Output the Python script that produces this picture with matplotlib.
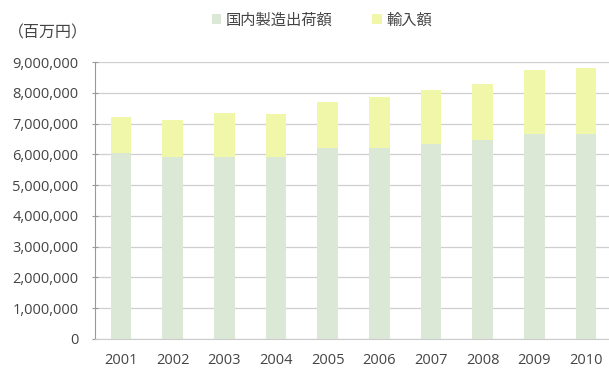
import matplotlib.pyplot as plt
from matplotlib.patches import Patch
from matplotlib.ticker import FuncFormatter

plt.rcParams["font.family"] = ["Open Sans", "Noto Sans CJK JP", "DejaVu Sans"]

years = ["2001", "2002", "2003", "2004", "2005", "2006", "2007", "2008", "2009", "2010"]
domestic = [6050000, 5900000, 5900000, 5900000, 6200000, 6200000, 6350000, 6450000, 6650000, 6650000]
totals = [7200000, 7100000, 7350000, 7300000, 7700000, 7850000, 8100000, 8300000, 8750000, 8800000]
imports = [t - d for t, d in zip(totals, domestic)]

green = "#dbe8d6"
yellow = "#f0f7a8"
text_color = "#444444"

fig = plt.figure(figsize=(6.09, 3.70), dpi=100)
ax = fig.add_axes([95 / 609, 31 / 370, 517 / 609, 277 / 370])

x = range(len(years))
ax.bar(x, domestic, width=0.4, color=green, zorder=2)
ax.bar(x, imports, width=0.4, bottom=domestic, color=yellow, zorder=2)

ax.set_xlim(-0.5, 9.5)
ax.set_ylim(0, 9000000)
ax.set_yticks(range(0, 9000001, 1000000))
ax.yaxis.set_major_formatter(FuncFormatter(lambda v, p: f"{int(v):,}"))
ax.set_xticks(list(x))
ax.set_xticklabels(years)
ax.grid(axis="y", color="#cfcfcf", linewidth=0.9, zorder=0)
ax.tick_params(axis="y", length=4, direction="inout", color="#999999",
               labelsize=10.5, labelcolor=text_color, pad=10)
ax.tick_params(axis="x", length=0, labelsize=10.5, labelcolor=text_color, pad=10)
for side in ["top", "right"]:
    ax.spines[side].set_visible(False)
ax.spines["left"].set_color("#999999")
ax.spines["bottom"].set_color("#cccccc")

fig.text(8 / 609, 1 - 33 / 370, "（百万円）", fontsize=11.5, color=text_color,
         va="center", family=["Noto Sans CJK JP", "DejaVu Sans"])

fig.legend(
    handles=[Patch(facecolor=green, label="国内製造出荷額"),
             Patch(facecolor=yellow, label="輸入額")],
    loc="center", bbox_to_anchor=(322 / 609, 1 - 20 / 370), ncol=2, frameon=False,
    prop={"family": ["Noto Sans CJK JP", "DejaVu Sans"], "size": 11},
    labelcolor=text_color, handlelength=0.6, handleheight=0.6, columnspacing=2.6,
    handletextpad=0.3,
)

fig.savefig("out.png", dpi=100)
